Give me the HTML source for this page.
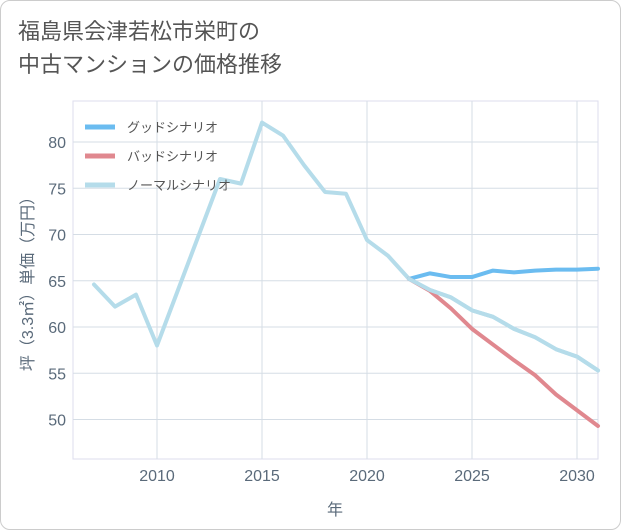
<!DOCTYPE html>
<html><head><meta charset="utf-8">
<style>
body{margin:0;background:#fff;font-family:"Liberation Sans","Noto Sans CJK JP",sans-serif;}
#wrap{position:relative;width:621px;height:530px;box-sizing:border-box;border:1px solid #ccc;border-radius:10px;overflow:hidden;background:#fff;}
#title{position:absolute;left:17px;top:14px;font-size:22px;line-height:33px;color:#555;}
</style></head><body>
<div id="wrap">
<div id="title">福島県会津若松市栄町の<br>中古マンションの価格推移</div>
<svg id="chart" width="621" height="530" style="position:absolute;left:0;top:0"></svg>
</div>
<script>
const years=[2007,2008,2009,2010,2011,2012,2013,2014,2015,2016,2017,2018,2019,2020,2021,2022,2023,2024,2025,2026,2027,2028,2029,2030,2031];
const normal=[64.6,62.2,63.5,58.0,64,70,76,75.5,82.1,80.7,77.5,74.6,74.4,69.4,67.7,65.2,64.0,63.2,61.8,61.1,59.8,58.9,57.6,56.8,55.3];
const goodYears=[2022,2023,2024,2025,2026,2027,2028,2029,2030,2031];
const good=[65.2,65.8,65.4,65.4,66.1,65.9,66.1,66.2,66.2,66.3];
const bad=[65.2,63.9,62.0,59.8,58.1,56.4,54.8,52.7,51.0,49.3];
const xTicks=[2010,2015,2020,2025,2030];
const yTicks=[50,55,60,65,70,75,80];
const legendLabels=["グッドシナリオ","バッドシナリオ","ノーマルシナリオ"];
const colors=["#6bbcf0","#e0888f","#b5dcea"];

const NS="http://www.w3.org/2000/svg";
const svg=document.getElementById('chart');
const L=72,R=597,T=100,B=458;
const x=v=>156+(v-2010)*21;
const y=v=>141+(80-v)*9.25;
const tc='#5a6a7a';
function el(t,a,p){const e=document.createElementNS(NS,t);for(const k in a)e.setAttribute(k,a[k]);(p||svg).appendChild(e);return e;}

const plot=el('rect',{x:L,y:T,width:R-L,height:B-T,fill:'#fff',stroke:'#dde'});


xTicks.forEach(v=>{
  const g=el('line',{x1:x(v),x2:x(v),y1:T,y2:B,stroke:'#d5dde5'});
  
  
  const t=el('text',{x:x(v),y:B+22,'text-anchor':'middle','font-size':16,fill:tc});
  t.textContent=v;
  
  
});
yTicks.forEach(v=>{
  const g=el('line',{x1:L,x2:R,y1:y(v),y2:y(v),stroke:'#d5dde5'});
  
  
  const t=el('text',{x:L-7,y:y(v)+6,'text-anchor':'end','font-size':16,fill:tc});
  t.textContent=v;
  
  
});
const xt=el('text',{x:334,y:514,'text-anchor':'middle','font-size':16,fill:tc});
xt.textContent='年';


const yt=el('text',{transform:'translate(32,279) rotate(-90)','text-anchor':'middle','font-size':16,fill:tc});
yt.textContent='坪（3.3㎡）単価（万円）';



function line(xs,vs,c,name){
  const p=el('polyline',{points:xs.map((v,i)=>x(v)+','+y(vs[i])).join(' '),fill:'none',stroke:c,'stroke-width':4,'stroke-linejoin':'round','stroke-linecap':'round'});
  
  
}
line(years,normal,colors[2],'normal-scenario-line');
line(goodYears,good,colors[0],'good-scenario-line');
line(goodYears,bad,colors[1],'bad-scenario-line');
line(years.slice(15),normal.slice(15),colors[2],'normal-scenario-forecast-line');

legendLabels.forEach((s,i)=>{
  const ly=126+i*29;
  const l=el('line',{x1:84,x2:114,y1:ly,y2:ly,stroke:colors[i],'stroke-width':5});
  
  
  const t=el('text',{x:126,y:ly+5,'font-size':13,fill:'#555'});
  t.textContent=s;
  
  
});
</script>
</body></html>
